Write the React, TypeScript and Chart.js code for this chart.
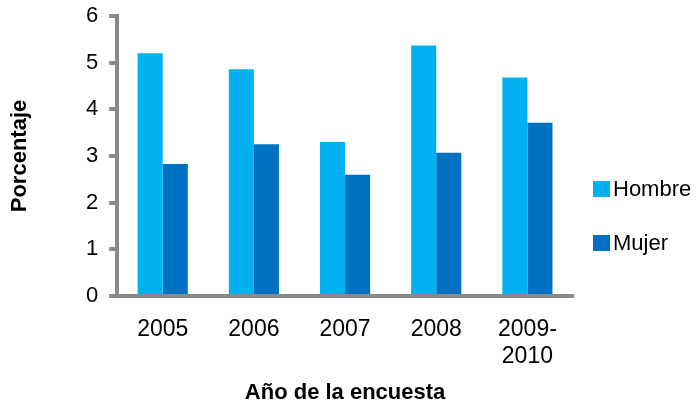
import React, { useEffect, useRef } from "react";
import { Chart, registerables } from "chart.js";

Chart.register(...registerables);

const categories: (string | string[])[] = ["2005", "2006", "2007", "2008", ["2009-", "2010"]];
const seriesNames = ["Hombre", "Mujer"];
const hombre = [5.2, 4.86, 3.3, 5.37, 4.68];
const mujer = [2.83, 3.25, 2.6, 3.07, 3.71];
const seriesColors = ["#00B0F0", "#0070C0"];
const yTitle = "Porcentaje";
const xTitle = "Año de la encuesta";

const FONT = "'Liberation Sans', Arial, sans-serif";
const AXIS_GREY = "#898989";

const legendPlugin = {
  id: "sideLegend",
  afterDraw(chart: any) {
    const { ctx, chartArea } = chart;
    const boxW = 17;
    const boxH = 16;
    const gap = 54;
    const x = chartArea.right + 20;
    const centers = chart.data.datasets.map((_: any, i: number) => 189 + i * gap);
    ctx.save();
    ctx.font = `22px ${FONT}`;
    ctx.textBaseline = "middle";
    ctx.textAlign = "left";
    chart.data.datasets.forEach((ds: any, i: number) => {
      const cy = centers[i];
      ctx.fillStyle = ds.backgroundColor;
      ctx.fillRect(x, cy - boxH / 2, boxW, boxH);
      ctx.fillStyle = "#000";
      ctx.fillText(ds.label, x + boxW + 3, cy + 1);
    });
    ctx.restore();
  },
};

export default function App() {
  const ref = useRef<HTMLCanvasElement | null>(null);
  useEffect(() => {
    if (!ref.current) return;
    const chart = new Chart(ref.current, {
      type: "bar",
      data: {
        labels: categories as any,
        datasets: [
          { label: seriesNames[0], data: hombre, backgroundColor: seriesColors[0], borderWidth: 0 },
          { label: seriesNames[1], data: mujer, backgroundColor: seriesColors[1], borderWidth: 0 },
        ],
      },
      options: {
        responsive: false,
        animation: false,
        devicePixelRatio: 1,
        layout: { padding: { top: 16, right: 123, bottom: 0, left: 0 } },
        datasets: { bar: { categoryPercentage: 0.55, barPercentage: 1 } },
        plugins: {
          legend: { display: false },
          tooltip: { enabled: false },
        },
        scales: {
          x: {
            z: 1,
            grid: { display: false, drawTicks: false },
            border: { display: true, color: AXIS_GREY, width: 4 },
            ticks: {
              color: "#000",
              padding: 20,
              maxRotation: 0,
              autoSkip: false,
              font: { family: FONT, size: 23, lineHeight: 1.174 },
            },
            title: {
              display: true,
              text: xTitle,
              color: "#000",
              font: { family: FONT, size: 22, weight: "bold", lineHeight: 1.2 },
              padding: { top: -10.4, bottom: 0 },
            },
          },
          y: {
            z: 1,
            min: 0,
            max: 6,
            grid: {
              drawOnChartArea: false,
              drawTicks: true,
              tickLength: 8,
              color: AXIS_GREY,
              lineWidth: 4,
            },
            border: { display: true, color: AXIS_GREY, width: 4 },
            ticks: {
              stepSize: 1,
              color: "#000",
              padding: 11,
              font: { family: FONT, size: 22, lineHeight: 0.4545 },
            },
            title: {
              display: true,
              text: yTitle,
              color: "#000",
              font: { family: FONT, size: 22, weight: "bold", lineHeight: 1.2 },
              padding: { top: 7, bottom: 41.5 },
            },
          },
        },
      },
      plugins: [legendPlugin],
    });
    return () => chart.destroy();
  }, []);

  return (
    <div style={{ position: "absolute", left: 0, top: 0, width: 696, height: 406, background: "#fff" }}>
      <canvas ref={ref} width={696} height={406} style={{ display: "block" }} />
    </div>
  );
}
